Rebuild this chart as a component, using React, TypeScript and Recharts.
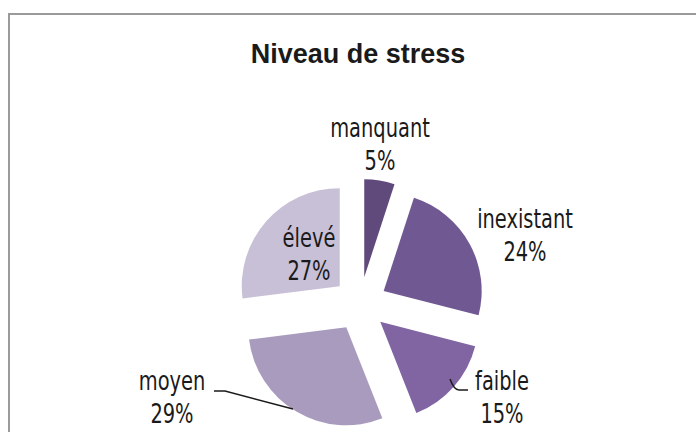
import React from "react";
import { PieChart, Pie, Cell, Sector } from "recharts";

// niveaux de stress, dans le sens horaire depuis midi
const categories = ["manquant", "inexistant", "faible", "moyen", "élevé"];
const shares = [5, 24, 15, 29, 27];
const colors = ["#5f4a7b", "#705892", "#8065a2", "#a99bbe", "#c8c0d7"];

// position des étiquettes par rapport au centre du camembert (centre x, ligne de base)
const labelOffsets = [
  [20, -167],
  [165, -76],
  [142, 86],
  [-188, 86],
  [-51, -57],
];

const data = categories.map((name, i) => ({ name, value: shares[i] }));

const RAD = Math.PI / 180;
const EXPLODE = 27;
const FONT = "'DejaVu Sans Condensed', 'DejaVu Sans', sans-serif";

// part éclatée : on décale chaque secteur le long de sa bissectrice
const ExplodedSlice = (props: any) => {
  const { cx, cy, midAngle, outerRadius, startAngle, endAngle, fill } = props;
  const dx = EXPLODE * Math.cos(-midAngle * RAD);
  const dy = EXPLODE * Math.sin(-midAngle * RAD);
  return (
    <Sector
      cx={cx + dx}
      cy={cy + dy}
      innerRadius={0}
      outerRadius={outerRadius}
      startAngle={startAngle}
      endAngle={endAngle}
      fill={fill}
      stroke="none"
    />
  );
};

// texte étroit et haut, un peu comme la police d'origine
const NarrowText = ({ x, y, children }: any) => (
  <text
    transform={`translate(${x},${y}) scale(0.8,1)`}
    textAnchor="middle"
    fill="#1a1a1a"
    fontSize={27}
    fontFamily={FONT}
  >
    {children}
  </text>
);

const renderLabel = (props: any) => {
  const { cx, cy, index, value } = props;
  const [ox, oy] = labelOffsets[index];
  const x = cx + ox;
  const y = cy + oy;
  let leader: string | null = null;
  if (index === 3) {
    leader = `M${cx - 146},${cy + 87} L${cx - 135},${cy + 87} L${cx - 67},${cy + 105}`;
  }
  if (index === 2) {
    leader = `M${cx + 90},${cy + 75} Q${cx + 94},${cy + 86} ${cx + 99},${cy + 86} L${cx + 108},${cy + 86}`;
  }
  return (
    <g>
      {leader && <path d={leader} stroke="#1a1a1a" strokeWidth={1.5} fill="none" />}
      <NarrowText x={x} y={y}>{categories[index]}</NarrowText>
      <NarrowText x={x} y={y + 33}>{value}%</NarrowText>
    </g>
  );
};

export default function App() {
  return (
    <div style={{ position: "fixed", left: 0, top: 0, width: 696, height: 432, overflow: "hidden", background: "#fff" }}>
      <div
        style={{
          position: "absolute",
          left: 8,
          top: 13,
          width: 800,
          height: 600,
          border: "2px solid #9a9a9a",
          boxSizing: "border-box",
        }}
      />
      <div style={{ position: "absolute", left: 0, top: 0 }}>
        <PieChart width={696} height={432} margin={{ top: 0, right: 0, bottom: 0, left: 0 }}>
          <text
            x={358}
            y={63}
            textAnchor="middle"
            fill="#1a1a1a"
            fontSize={27}
            fontWeight="bold"
            fontFamily="'Liberation Sans', Arial, sans-serif"
          >
            Niveau de stress
          </text>
          <Pie
            data={data}
            dataKey="value"
            nameKey="name"
            cx={360}
            cy={304}
            outerRadius={98}
            startAngle={90}
            endAngle={-270}
            stroke="none"
            shape={ExplodedSlice}
            label={renderLabel}
            labelLine={false}
            isAnimationActive={false}
          >
            {data.map((d, i) => (
              <Cell key={d.name} fill={colors[i]} />
            ))}
          </Pie>
        </PieChart>
      </div>
    </div>
  );
}
